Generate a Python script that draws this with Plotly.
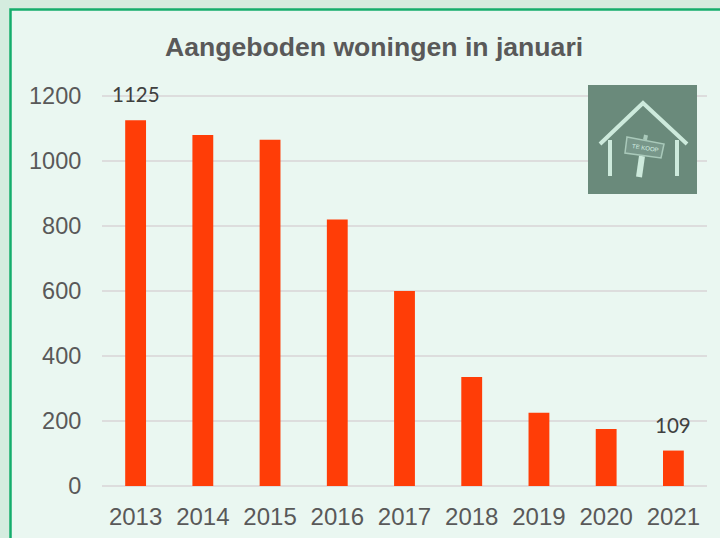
import plotly.graph_objects as go

years = ["2013", "2014", "2015", "2016", "2017", "2018", "2019", "2020", "2021"]
values = [1125, 1080, 1065, 820, 600, 335, 225, 175, 109]
y_ticks = [0, 200, 400, 600, 800, 1000, 1200]
title_text = "Aangeboden woningen in januari"
labelled = {"2013": 1125, "2021": 109}

W, H = 720, 538
ML, MR, MT, MB = 102, 13, 94, 52
PW, PH = W - ML - MR, H - MT - MB


def px(x):
    return (x - ML) / PW


def py(y):
    return 1 - (y - MT) / PH


fig = go.Figure(go.Bar(x=years, y=values, marker=dict(color="#ff3d07", line=dict(width=0)),
                       width=0.31, hoverinfo="x+y"))

shapes = [
    dict(type="rect", xref="paper", yref="paper", layer="below",
         x0=px(10.5), x1=px(740), y0=py(9.5), y1=py(560),
         fillcolor="#eaf7f1", line=dict(color="#14ad6c", width=2.5)),
    dict(type="rect", xref="paper", yref="paper", layer="above",
         x0=px(588), x1=px(697), y0=py(85), y1=py(194),
         fillcolor="#6a8a7b", line=dict(width=0)),
]


def seg(points, width, color="#cdeadc"):
    path = "M " + " L ".join(f"{px(a):.5f},{py(b):.5f}" for a, b in points)
    shapes.append(dict(type="path", xref="paper", yref="paper", layer="above", path=path,
                       line=dict(color=color, width=width)))


seg([(600, 144), (643, 103), (687, 144)], 4)
seg([(610, 140), (610, 176)], 4)
seg([(677, 140), (677, 176)], 4)
seg([(646, 135), (645, 140)], 4, "#a9c9ba")
seg([(642, 156), (639, 177)], 6)
path = "M " + " L ".join(f"{px(a):.5f},{py(b):.5f}" for a, b in [(627, 137), (664, 144), (661, 158), (625, 153)]) + " Z"
shapes.append(dict(type="path", xref="paper", yref="paper", layer="above", path=path,
                   fillcolor="#78978a", line=dict(color="#a9c9ba", width=1.5)))

annotations = [
    dict(x=px(374), y=py(47), xref="paper", yref="paper",
         text=f"<b>{title_text}</b>", showarrow=False, xanchor="center", yanchor="middle",
         font=dict(family="Liberation Sans", size=26.6, color="#595959")),
    dict(x=px(645), y=py(148), xref="paper", yref="paper", text="TE KOOP", showarrow=False,
         xanchor="center", yanchor="middle", textangle=9,
         font=dict(family="Liberation Sans", size=6, color="#d6f0e4")),
]
for yr, yshift in (("2013", 26), ("2021", 26)):
    annotations.append(dict(x=years.index(yr), y=labelled[yr], xref="x", yref="y", text=str(labelled[yr]),
                            showarrow=False, yshift=yshift, yanchor="middle", xanchor="center",
                            font=dict(family="Lato", size=20.5, color="#404040")))

fig.update_layout(
    width=W, height=H, margin=dict(l=ML, r=MR, t=MT, b=MB, pad=0),
    paper_bgcolor="#d4ecdf", plot_bgcolor="rgba(0,0,0,0)", showlegend=False,
    shapes=shapes, annotations=annotations, bargap=0.69,
    xaxis=dict(type="category", range=[-0.5, 8.5], automargin=False, showgrid=False, zeroline=False,
               showline=False, ticks="outside", ticklen=9, tickcolor="rgba(0,0,0,0)",
               tickangle=0, tickfont=dict(family="Liberation Sans", size=24, color="#595959")),
    yaxis=dict(range=[0, 1206.15], tickvals=y_ticks, automargin=False, showgrid=True, gridcolor="#dddddd",
               gridwidth=2, zeroline=True, zerolinecolor="#dddddd", zerolinewidth=2, showline=False,
               ticks="outside", ticklen=15, tickcolor="rgba(0,0,0,0)",
               tickfont=dict(family="Liberation Sans", size=23.5, color="#595959")),
)

fig.write_html("out.html", config={"displayModeBar": False},
               post_script="document.body.style.margin='0';document.body.style.overflow='hidden';")
